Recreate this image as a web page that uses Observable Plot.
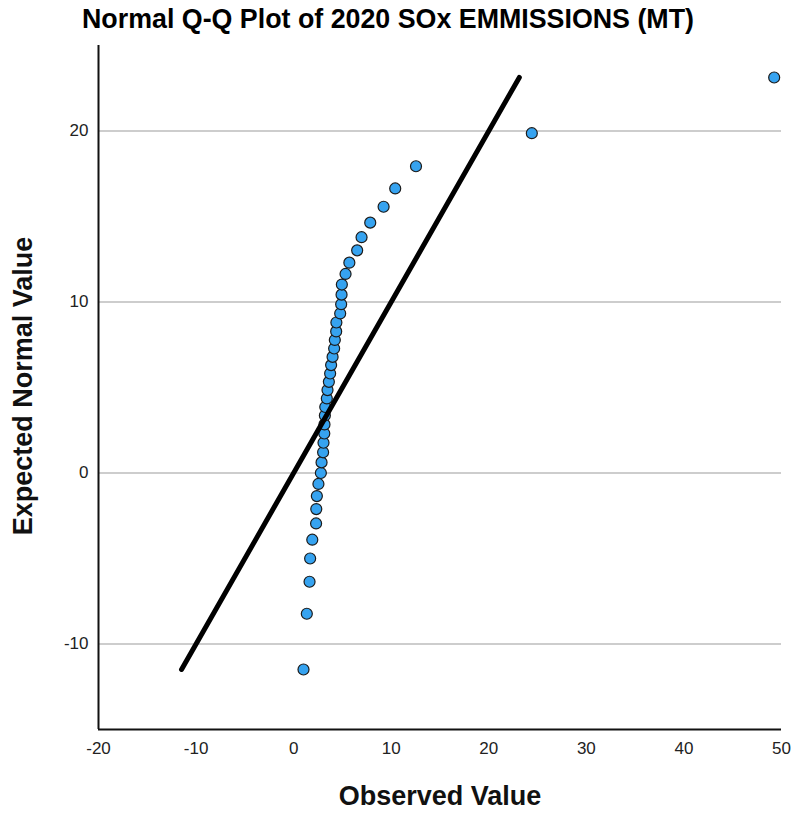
<!DOCTYPE html>
<html>
<head>
<meta charset="utf-8">
<script src="https://cdn.jsdelivr.net/npm/d3@7"></script>
<script src="https://cdn.jsdelivr.net/npm/@observablehq/plot@0.6"></script>
<style>
  html, body { margin: 0; padding: 0; background: #fff; }
  #wrap { position: relative; width: 791px; height: 814px; font-family: "Liberation Sans", Arial, sans-serif; }
  #chart { position: absolute; left: 0; top: 0; }
  .title { position: absolute; left: 0; width: 776px; top: 4px; text-align: center; font-weight: bold; font-size: 26.8px; color: #000; }
  .xlab { position: absolute; left: 98px; width: 684px; top: 781px; text-align: center; font-weight: bold; font-size: 27px; color: #111; }
  .ylab { position: absolute; left: 23px; top: 386px; transform: translate(-50%, -50%) rotate(-90deg); white-space: nowrap; font-weight: bold; font-size: 27px; color: #111; }
</style>
</head>
<body>
<div id="wrap">
  <div id="chart"></div>
  <div class="title">Normal Q-Q Plot of 2020 SOx EMMISSIONS (MT)</div>
  <div class="ylab">Expected Normal Value</div>
  <div class="xlab">Observed Value</div>
</div>
<script>
const observed = [1.01, 1.35, 1.63, 1.69, 1.91, 2.30, 2.32, 2.38, 2.54, 2.79,
  2.86, 3.02, 3.06, 3.14, 3.16, 3.20, 3.24, 3.40, 3.47, 3.61,
  3.74, 3.84, 3.99, 4.15, 4.22, 4.36, 4.38, 4.77, 4.87, 4.91,
  4.94, 5.32, 5.71, 6.51, 6.96, 7.85, 9.22, 10.41, 12.54, 24.41, 49.25];
// Expected normal values (y)
const expected = [-11.49, -8.23, -6.36, -5.00, -3.90, -2.95, -2.11, -1.35, -0.64, 0.00,
  0.62, 1.21, 1.77, 2.31, 2.84, 3.36, 3.86, 4.36, 4.85, 5.33,
  5.82, 6.31, 6.79, 7.28, 7.78, 8.28, 8.80, 9.33, 9.87, 10.43,
  11.02, 11.64, 12.30, 13.02, 13.79, 14.64, 15.57, 16.64, 17.94, 19.87, 23.13];
// Reference line y = x endpoints
const refLine = [-11.49, 23.13];
const xTicks = [-20, -10, 0, 10, 20, 30, 40, 50];
const yTicks = [-10, 0, 10, 20];
const xDomain = [-20, 50];
const yDomain = [-15, 25];

const points = observed.map((v, i) => ({obs: v, exp: expected[i]}));
const lineData = refLine.map(v => ({obs: v, exp: v}));

const chart = Plot.plot({
  width: 791,
  height: 814,
  marginTop: 45,
  marginBottom: 85,
  marginLeft: 98,
  marginRight: 10,
  x: {domain: xDomain},
  y: {domain: yDomain},
  style: {fontFamily: '"Liberation Sans", Arial, sans-serif', fontSize: "17px", color: "#222", background: "transparent"},
  marks: [
    Plot.gridY(yTicks, {stroke: "#bdbdbd", strokeOpacity: 1, strokeWidth: 1.5}),
    Plot.axisX(xTicks, {tickSize: 0, tickPadding: 12, label: null, tickFormat: d => String(d)}),
    Plot.axisY(yTicks, {tickSize: 0, tickPadding: 10, label: null, tickFormat: d => String(d)}),
    Plot.ruleX([xDomain[0]], {stroke: "#111", strokeWidth: 2}),
    Plot.ruleY([yDomain[0]], {stroke: "#111", strokeWidth: 2}),
    Plot.dot(points, {x: "obs", y: "exp", r: 5.5, fill: "#36a3f0", fillOpacity: 1, stroke: "#1b1b1b", strokeWidth: 1.2}),
    Plot.line(lineData, {x: "obs", y: "exp", stroke: "#000", strokeWidth: 5})
  ]
});
document.getElementById("chart").appendChild(chart);
</script>
</body>
</html>
